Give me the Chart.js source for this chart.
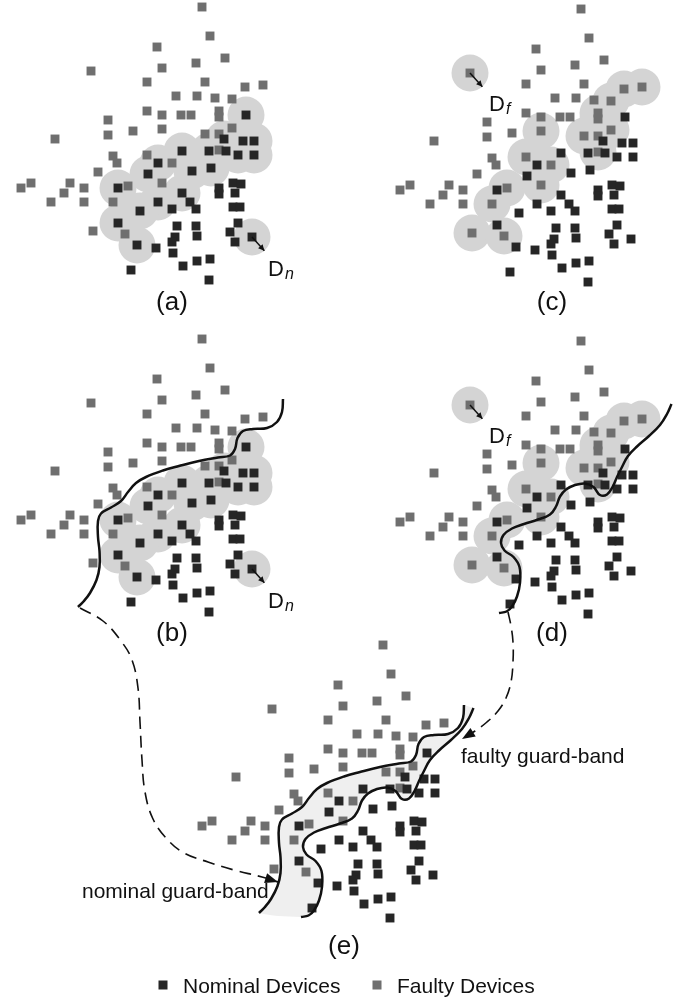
<!DOCTYPE html>
<html>
<head>
<meta charset="utf-8">
<script src="https://cdn.jsdelivr.net/npm/chart.js@4.4.0/dist/chart.umd.min.js"></script>
<style>
  html, body { margin: 0; padding: 0; background: #fff; }
  #fig { display: block; }
</style>
</head>
<body>
<canvas id="fig" width="686" height="1000"></canvas>
<script>
// same device cloud in every panel, px relative to panel (a)
const nominalDevices = [
  [246,115],[224,139],[243,141],[254,141],[182,151],[209,151],[226,151],[238,155],[254,155],[158,163],
  [211,168],[148,174],[192,171],[118,188],[182,193],[219,188],[219,194],[233,183],[241,184],[235,193],
  [158,202],[190,202],[196,209],[172,209],[140,211],[233,207],[240,207],[118,223],[177,226],[196,226],
  [197,236],[238,223],[230,232],[235,242],[252,237],[175,237],[172,242],[137,245],[156,248],[173,253],
  [183,266],[197,261],[210,259],[131,270],[209,280]
];
const faultyDevices = [
  [202,7],[210,36],[157,47],[225,58],[91,71],[162,68],[196,63],[147,82],[205,82],[245,87],
  [263,85],[176,96],[197,96],[215,98],[232,99],[147,111],[162,115],[181,115],[191,115],[219,111],
  [219,117],[108,120],[108,135],[133,131],[162,129],[232,128],[55,139],[205,134],[219,134],[113,156],
  [117,163],[147,155],[172,163],[98,172],[219,150],[21,188],[31,183],[70,183],[64,193],[84,188],
  [51,202],[84,202],[128,186],[162,183],[113,202],[93,231],[125,234]
];

// devices that get a distance ring (indices into the lists above)
const nominalRings = [0,1,2,3,4,5,6,7,8,9,10,11,12,13,14,20,24,27,37,34];
const faultyRings = [4,9,10,14,19,20,24,25,27,28,31,32,34,42,43,44,45,46];
const markedNominal = 34;   // D_n
const markedFaulty = 4;     // D_f

// guard-band boundaries
const nominalGuardBand = [
  [283,67],[282,80],[277,90],[267,96],[253,97],[243,99],[237.5,106],[235,117],[230,123.5],[218,125.5],
  [199,129],[179,134],[163,138.5],[146,145],[136,151],[128,160],[121,169],[111,175.5],[101,181.5],[98,189],
  [98,205],[99.5,219],[99.5,235],[96.5,248],[90,261],[83.5,269.5],[78,275]
];
const faultyGuardBand = [
  [292.5,70],[288,80],[281,91],[270,102],[258,112.5],[249,122],[243,133],[238,143],[233.5,153],[228,160.5],
  [221,161],[214.5,153],[206,149.5],[196,151],[187,155.5],[181,162.5],[177,172.5],[171,180.5],[159,185.5],[145,190],
  [133,194.5],[124.5,201],[122,209],[125.5,216.5],[134.5,223],[140.5,233],[141,249],[138,262.5],[133,272.5],[127.5,277.5],
  [120,279]
];

// dashed links (b) -> (e) and (d) -> (e), page px
const nominalArrowPath = [
  [80,608],[103,621],[121,641],[132,660],[138,688],[140,722],[142,760],[145,792],[153,819],[167,839],
  [184,853],[208,862],[234,870],[262,877],[278,882]
];
const faultyArrowPath = [
  [508,612],[511,626],[513,642],[513,662],[511,682],[506,698],[498,711],[487,722],[475,731],[462,739]
];

const seriesNames = ['Nominal Devices', 'Faulty Devices'];
const panelLabels = ['(a)', '(b)', '(c)', '(d)', '(e)'];
const bandLabels = ['nominal guard-band', 'faulty guard-band'];

// layout / style
const ink = '#111111';
const colors = {nominal: '#262626', faulty: '#6f6f6f', ring: '#d4d4d4', band: '#efefef'};
const font = "'Liberation Sans', Arial, sans-serif";
const ringRadius = 18.5;

const panels = [
  {dx: 0,   dy: 0,   rings: 'nominal', curves: [],                    label: [172, 303]},
  {dx: 0,   dy: 332, rings: 'nominal', curves: ['nominal'],           label: [172, 634]},
  {dx: 379, dy: 2,   rings: 'faulty',  curves: [],                    label: [552, 303]},
  {dx: 379, dy: 334, rings: 'faulty',  curves: ['faulty'],            label: [552, 634]},
  {dx: 181, dy: 638, rings: null,      curves: ['nominal', 'faulty'], label: [344, 947], band: true}
];
const radiusLabel = {nominal: {sub: 'n', at: [268, 276]}, faulty: {sub: 'f', at: [110, 109]}};
const bandLabelPos = [[82, 898], [461, 763]];
const legendPos = [[163, 985], [377, 985]];

const shift = (pts, p) => pts.map(([x, y]) => ({x: x + p.dx, y: y + p.dy}));
const curveOf = c => (c === 'nominal' ? nominalGuardBand : faultyGuardBand);

const datasets = [];
panels.forEach(p => {
  datasets.push({label: seriesNames[0], data: shift(nominalDevices, p), pointStyle: 'rect',
    pointRadius: 6.3, backgroundColor: colors.nominal, borderWidth: 0, order: 1});
  datasets.push({label: seriesNames[1], data: shift(faultyDevices, p), pointStyle: 'rect',
    pointRadius: 6.3, backgroundColor: colors.faulty, borderWidth: 0, order: 1});
  if (p.rings) {
    const src = p.rings === 'nominal' ? nominalDevices : faultyDevices;
    const idx = p.rings === 'nominal' ? nominalRings : faultyRings;
    datasets.push({data: shift(idx.map(k => src[k]), p), pointStyle: 'circle',
      pointRadius: ringRadius, backgroundColor: colors.ring, borderWidth: 0, order: 3});
  }
  if (p.band) {
    datasets.push({data: shift(nominalGuardBand.concat(faultyGuardBand.slice().reverse()), p),
      showLine: true, fill: 'shape', backgroundColor: colors.band, borderColor: 'rgba(0,0,0,0)',
      borderWidth: 0, pointRadius: 0, tension: 0.4, order: 2});
  }
  p.curves.forEach(c => datasets.push({data: shift(curveOf(c), p), showLine: true,
    borderColor: ink, borderWidth: 2.5, pointRadius: 0, tension: 0.4, fill: false, order: 0}));
});
[nominalArrowPath, faultyArrowPath].forEach(path => datasets.push({
  data: path.map(([x, y]) => ({x, y})), showLine: true, borderColor: ink, borderWidth: 1.6,
  borderDash: [12, 7], pointRadius: 0, tension: 0.4, fill: false, order: 0
}));

function head(ctx, x, y, ang, len, half) {
  const c = Math.cos(ang), s = Math.sin(ang);
  ctx.beginPath();
  ctx.moveTo(x, y);
  ctx.lineTo(x - len * c + half * s, y - len * s - half * c);
  ctx.lineTo(x - len * c - half * s, y - len * s + half * c);
  ctx.closePath();
  ctx.fill();
}

const extras = {
  id: 'extras',
  afterDraw(chart) {
    const {ctx} = chart;
    const X = v => chart.scales.x.getPixelForValue(v);
    const Y = v => chart.scales.y.getPixelForValue(v);
    ctx.save();
    ctx.fillStyle = ink;
    ctx.strokeStyle = ink;

    // arrow heads on the dashed links
    [nominalArrowPath, faultyArrowPath].forEach(path => {
      const [x0, y0] = path[path.length - 2], [x1, y1] = path[path.length - 1];
      head(ctx, X(x1), Y(y1), Math.atan2(Y(y1) - Y(y0), X(x1) - X(x0)), 13, 5);
    });

    panels.forEach((p, i) => {
      // radius arrow + D label
      if (p.rings) {
        const pt = p.rings === 'nominal' ? nominalDevices[markedNominal] : faultyDevices[markedFaulty];
        const cx = X(pt[0] + p.dx), cy = Y(pt[1] + p.dy), ang = 48 * Math.PI / 180;
        const ex = cx + ringRadius * Math.cos(ang), ey = cy + ringRadius * Math.sin(ang);
        ctx.lineWidth = 1.5;
        ctx.beginPath(); ctx.moveTo(cx, cy); ctx.lineTo(ex, ey); ctx.stroke();
        head(ctx, ex, ey, ang, 6, 3);
        const lab = radiusLabel[p.rings];
        const lx = X(lab.at[0] + p.dx), ly = Y(lab.at[1] + p.dy);
        ctx.textAlign = 'left';
        ctx.textBaseline = 'alphabetic';
        ctx.font = `22px ${font}`;
        ctx.fillText('D', lx, ly);
        const w = ctx.measureText('D').width;
        ctx.font = `italic 16px ${font}`;
        ctx.fillText(lab.sub, lx + w + 1, ly + 3);
      }
      // panel letter
      ctx.font = `26px ${font}`;
      ctx.textAlign = 'center';
      ctx.textBaseline = 'middle';
      ctx.fillText(panelLabels[i], X(p.label[0]), Y(p.label[1]));
    });

    // guard-band captions
    ctx.font = `21px ${font}`;
    ctx.textAlign = 'left';
    ctx.textBaseline = 'alphabetic';
    bandLabels.forEach((t, i) => ctx.fillText(t, X(bandLabelPos[i][0]), Y(bandLabelPos[i][1])));

    // legend
    [colors.nominal, colors.faulty].forEach((col, i) => {
      const [x, y] = legendPos[i];
      ctx.fillStyle = col;
      ctx.fillRect(X(x) - 4.5, Y(y) - 4.5, 9, 9);
      ctx.fillStyle = ink;
      ctx.fillText(seriesNames[i], X(x) + 20, Y(y) + 8);
    });
    ctx.restore();
  }
};

new Chart(document.getElementById('fig').getContext('2d'), {
  type: 'scatter',
  data: {datasets},
  options: {
    responsive: false,
    animation: false,
    devicePixelRatio: 1,
    events: [],
    layout: {padding: 0, autoPadding: false},
    scales: {
      x: {type: 'linear', min: 0, max: 686, display: false},
      y: {type: 'linear', min: 0, max: 1000, reverse: true, display: false}
    },
    plugins: {legend: {display: false}, tooltip: {enabled: false}}
  },
  plugins: [extras]
});
</script>
</body>
</html>
